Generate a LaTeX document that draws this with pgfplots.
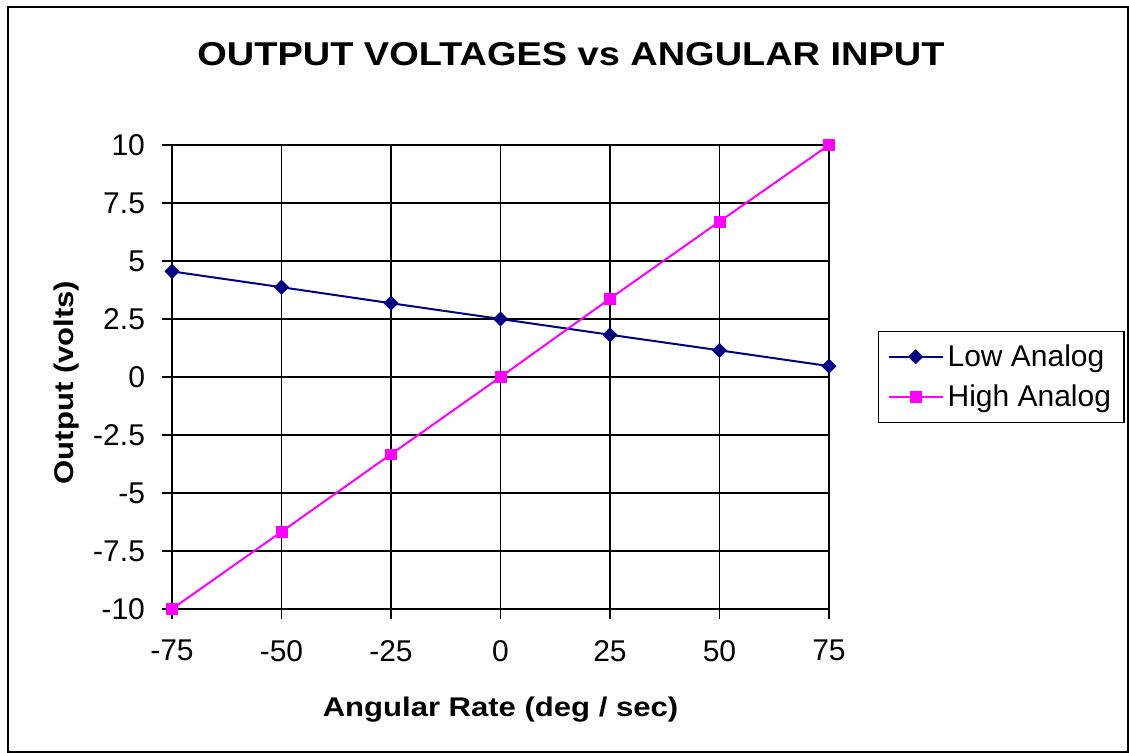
\documentclass[border=0pt]{standalone}
\usepackage{pgfplots}
\pgfplotsset{compat=1.18}
\usepackage{fontspec}
\setmainfont{Liberation Sans}
\usepackage{graphicx}
\definecolor{navyc}{RGB}{0,0,128}
\definecolor{magc}{RGB}{255,0,255}
\begin{document}
\begin{tikzpicture}
\path[use as bounding box] (0,0) rectangle (564.5pt,-376.5pt);
\draw[line width=0.6pt] (4pt,-3.5pt) rectangle (564pt,-376pt);
\begin{axis}[
  at={(86pt,-304.5pt)}, anchor=south west,
  scale only axis, width=328.5pt, height=232pt,
  xmin=-75, xmax=75, ymin=-10, ymax=10,
  xtick={-75,-50,-25,0,25,50,75},
  xticklabels={-75,-50,-25,0,25,50,75},
  ytick={-10,-7.5,-5,-2.5,0,2.5,5,7.5,10},
  yticklabels={-10,-7.5,-5,-2.5,0,2.5,5,7.5,10},
  tick align=outside, xtick pos=bottom, ytick pos=left,
  major tick length=5pt,
  tick style={black, line width=0.6pt},
  grid=major, major grid style={black, line width=0.6pt},
  axis line style={black, line width=0.6pt},
  ticklabel style={font=\fontsize{15}{17}\selectfont},
  xticklabel style={yshift=-7pt},
  yticklabel style={xshift=-5pt},
  clip=false,
  legend cell align=left,
  legend style={at={(1,0.5)}, anchor=west, xshift=24.5pt,
    draw=black, line width=0.6pt, inner xsep=4.5pt, inner ysep=4.5pt,
    font=\fontsize{15}{18}\selectfont,
    nodes={inner sep=2pt},
    row sep=3.8pt},
  legend image code/.code={%
    \draw[mark repeat=2,mark phase=2,#1] plot coordinates {(0pt,0pt)(13.5pt,0pt)(27pt,0pt)};},
]
\addplot[navyc, line width=1pt, mark=square*, mark size=2.5pt, mark options={rotate=45, fill=navyc, draw=navyc, line width=0.3pt}]
  coordinates {(-75,4.55) (-50,3.87) (-25,3.18) (0,2.5) (25,1.82) (50,1.15) (75,0.47)};
\addlegendentry{Low Analog}
\addplot[magc, line width=1pt, mark=square*, mark size=2.7pt, mark options={fill=magc, draw=magc, line width=0.3pt}]
  coordinates {(-75,-10) (-50,-6.67) (-25,-3.33) (0,0) (25,3.38) (50,6.7) (75,10)};
\addlegendentry{High Analog}
\end{axis}
\node[anchor=base] at (285.5pt,-33pt) {\fontsize{16.5}{20}\selectfont\bfseries\scalebox{1.15}[1]{OUTPUT VOLTAGES vs ANGULAR INPUT}};
\node[anchor=base] at (250.25pt,-358pt) {\fontsize{13.5}{16}\selectfont\bfseries\scalebox{1.15}[1]{Angular Rate (deg / sec)}};
\node[anchor=base, rotate=90] at (36.5pt,-191.25pt) {\fontsize{13.5}{16}\selectfont\bfseries\scalebox{1.15}[1]{Output (volts)}};
\end{tikzpicture}
\end{document}
